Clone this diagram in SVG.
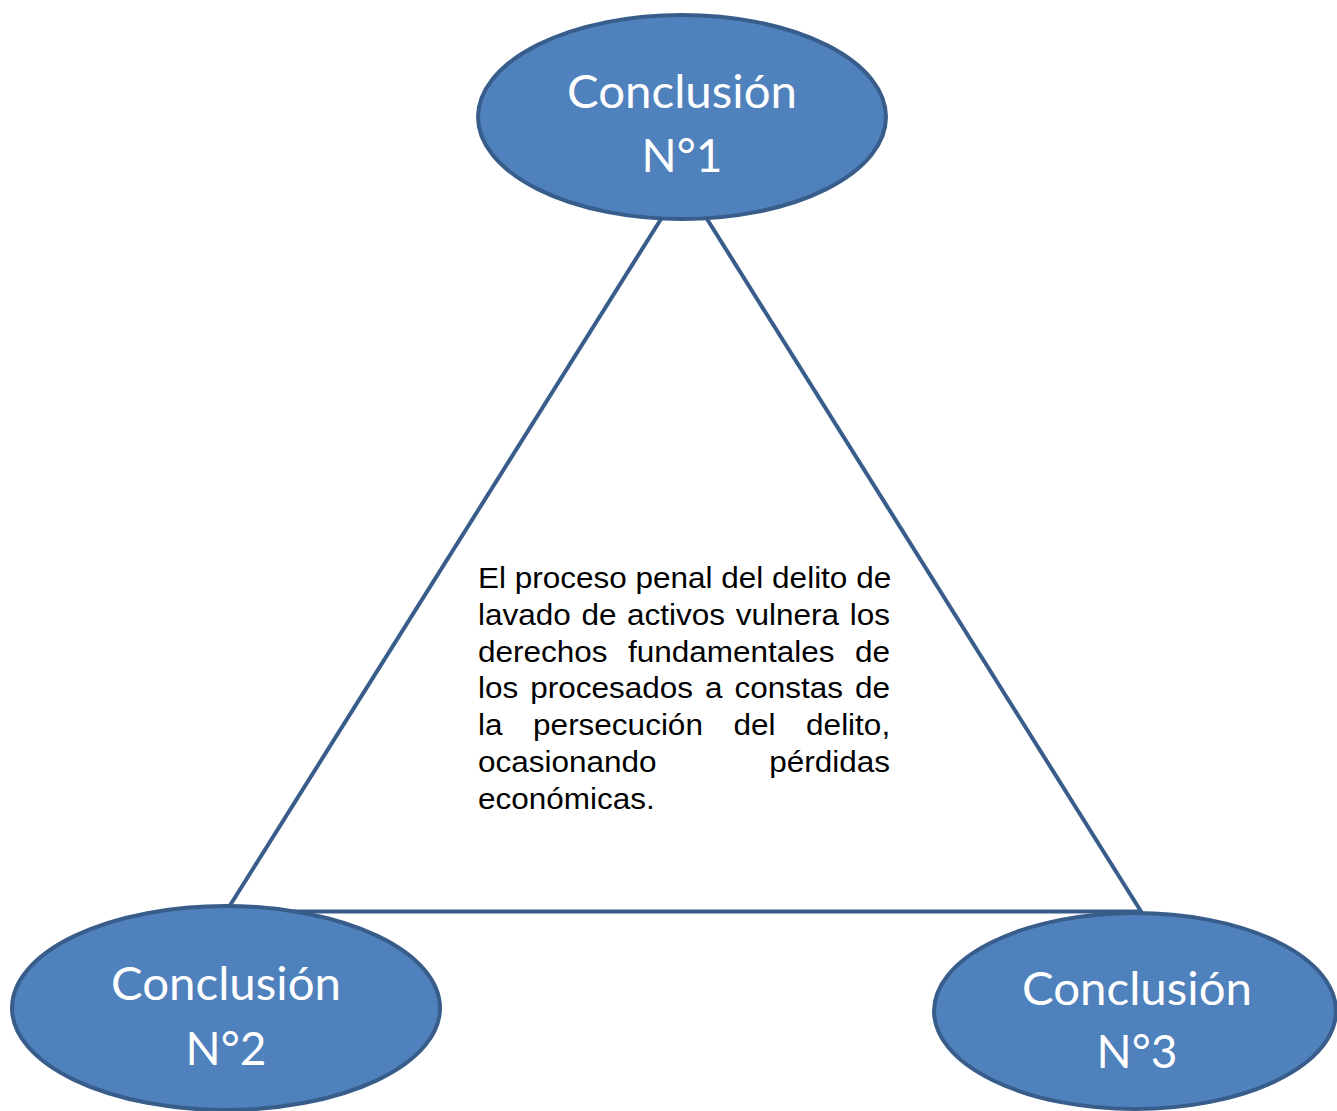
<svg xmlns="http://www.w3.org/2000/svg" width="1337" height="1111" viewBox="0 0 1337 1111">
  <style>
    .node { fill: #4f81bd; stroke: #385d8a; stroke-width: 4; }
    .label { fill: #ffffff; font-family: Lato, "Open Sans", "Liberation Sans", sans-serif; font-size: 46px; text-anchor: middle; }
    .edge { stroke: #385d8a; stroke-width: 4; fill: none; }
    .body { fill: #000000; font-family: "Liberation Sans", Arial, sans-serif; font-size: 30px; }
  </style>
  <rect width="1337" height="1111" fill="#ffffff"/>
  <g id="connectors">
    <line class="edge" x1="661" y1="219" x2="229" y2="907"/>
    <line class="edge" x1="707" y1="219" x2="1142" y2="913"/>
    <line class="edge" x1="260" y1="911.5" x2="1142" y2="911.5"/>
  </g>
  <g id="node1">
    <ellipse class="node" cx="682" cy="117" rx="204" ry="102"/>
    <text class="label" x="682" y="108" textLength="230" lengthAdjust="spacingAndGlyphs">Conclusión</text>
    <text class="label" x="682" y="172">N°1</text>
  </g>
  <g id="node2">
    <ellipse class="node" cx="226" cy="1008" rx="214" ry="102"/>
    <text class="label" x="226" y="1000" textLength="230" lengthAdjust="spacingAndGlyphs">Conclusión</text>
    <text class="label" x="226" y="1065">N°2</text>
  </g>
  <g id="node3">
    <ellipse class="node" cx="1135" cy="1011" rx="201" ry="98"/>
    <text class="label" x="1137" y="1005" textLength="230" lengthAdjust="spacingAndGlyphs">Conclusión</text>
    <text class="label" x="1137" y="1068">N°3</text>
  </g>
  <g id="center-text" transform="translate(478 0) scale(1.05 1)">
    <text class="body" x="0" y="588">El proceso penal del delito de</text>
    <text class="body" x="0" y="625" word-spacing="1.8">lavado de activos vulnera los</text>
    <text class="body" x="0" y="662" word-spacing="11.1">derechos fundamentales de</text>
    <text class="body" x="0" y="698" word-spacing="3.05">los procesados a constas de</text>
    <text class="body" x="0" y="735" word-spacing="20.8">la persecución del delito,</text>
    <text class="body" x="0" y="772" word-spacing="98.9">ocasionando pérdidas</text>
    <text class="body" x="0" y="809">económicas.</text>
  </g>
</svg>
